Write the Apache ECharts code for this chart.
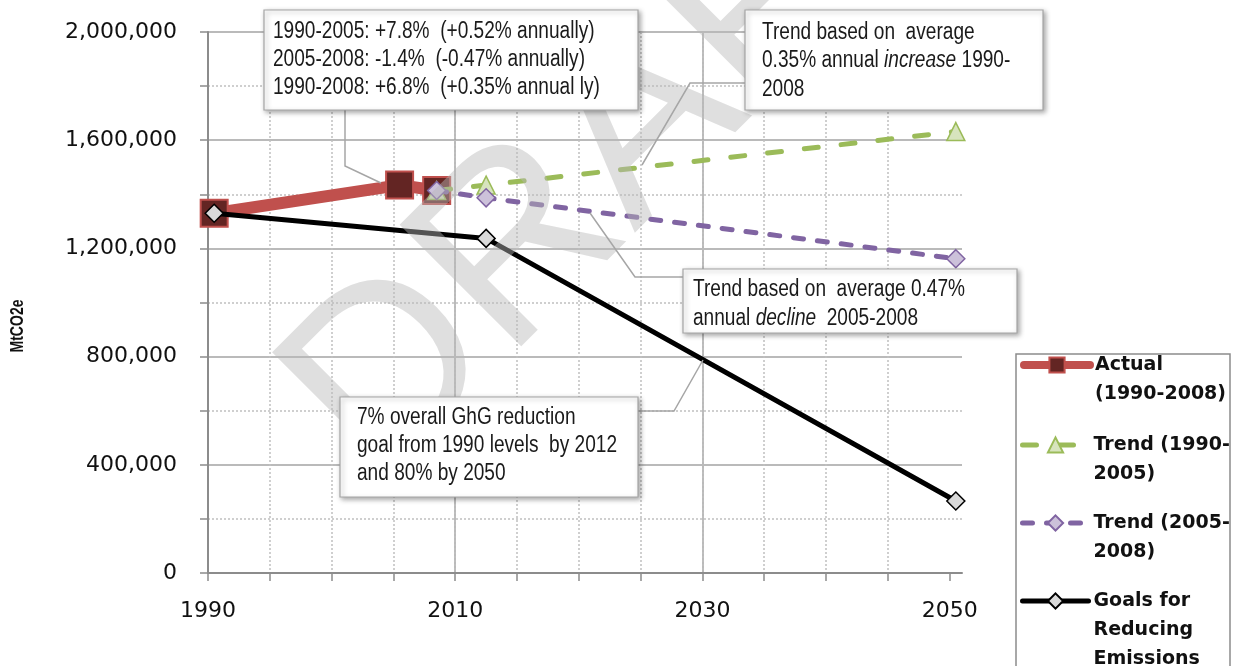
<!DOCTYPE html>
<html>
<head>
<meta charset="utf-8">
<script src="https://cdn.jsdelivr.net/npm/echarts@6/dist/echarts.min.js"></script>
<style>
html,body{margin:0;padding:0;background:#fff;}
#chart{width:1237px;height:666px;}
</style>
</head>
<body>
<div id="chart"></div>
<script>
// ---------------- data ----------------
const seriesNames = ['Actual (1990-2008)', 'Trend (1990-2005)', 'Trend (2005-2008)', 'Goals for Reducing Emissions'];
const legendLines = [['Actual', '(1990-2008)'], ['Trend (1990-', '2005)'], ['Trend (2005-', '2008)'], ['Goals for', 'Reducing', 'Emissions']];

const actualYears = [1990, 2005, 2008];
const actualValues = [1330000, 1434000, 1414000];

const trendUpYears = [2008, 2012, 2050];
const trendUpValues = [1414000, 1434000, 1632000];

const trendDownYears = [2008, 2012, 2050];
const trendDownValues = [1414000, 1387000, 1162000];

const goalYears = [1990, 2012, 2050];
const goalValues = [1330000, 1237000, 266000];

const xMajorYears = [1990, 2010, 2030, 2050];
const xMinorYears = [1990, 1995, 2000, 2005, 2010, 2015, 2020, 2025, 2030, 2035, 2040, 2045, 2050];
const yMin = 0, yMax = 2000000, yStep = 400000;
const yAxisTitle = 'MtCO2e';

const noteSpread = '1990-2005: +7.8%  (+0.52% annually)\n2005-2008: -1.4%  (-0.47% annually)\n1990-2008: +6.8%  (+0.35% annual ly)';
const noteIncrease = 'Trend based on  average\n0.35% annual {i|increase} 1990-\n2008';
const noteDecline = 'Trend based on  average 0.47%\nannual {i|decline}  2005-2008';
const noteGoal = '7% overall GhG reduction\ngoal from 1990 levels  by 2012\nand 80% by 2050';
const watermark = 'DRAFT';

// ---------------- chart ----------------
// Excel date axis: each year occupies one slot, points sit at the slot centre
const SLOT = 0.5;
const toPts = (xs, vs) => xs.map((x, i) => [x + SLOT, vs[i]]);

const chart = echarts.init(document.getElementById('chart'), null, {renderer: 'canvas'});

const sans = "'Liberation Sans', Arial, sans-serif";
const axisFont = "'DejaVu Sans', sans-serif";

const gridCol = '#a3a3a3';
const dotCol = '#c0c0c0';

// legend text is centred on the icon: pad with leading blank lines so the
// first real line sits level with the icon
function legendFor(idx, firstLineY, lineWidth) {
  const h = 29;
  const L = legendLines[idx].length;
  const blanks = L - 1;
  const text = '\n'.repeat(blanks) + legendLines[idx].join('\n');
  const N = blanks + L;
  return {
    show: true,
    data: [seriesNames[idx]],
    left: 1020, top: firstLineY - N * h / 2,
    orient: 'vertical',
    padding: 0,
    itemWidth: 66, itemHeight: 19,
    selectedMode: false,
    formatter: () => text,
    lineStyle: {width: lineWidth, cap: 'round'},
    textStyle: {fontFamily: axisFont, fontWeight: 'bold', fontSize: 19, color: '#111', lineHeight: h}
  };
}

const option = {
  animation: false,
  backgroundColor: '#fff',
  grid: {left: 208, right: 275, top: 32, bottom: 93, outerBoundsMode: 'none'},
  xAxis: [{
    type: 'value', min: 1990, max: 2051, interval: 20,
    axisLine: {show: true, onZero: false, lineStyle: {color: '#8c8c8c', width: 2}},
    axisTick: {show: true, length: 8, customValues: xMajorYears, lineStyle: {color: '#8c8c8c', width: 1.5}},
    axisLabel: {show: true, customValues: xMajorYears, margin: 27, fontFamily: axisFont, fontSize: 22, color: '#111', formatter: v => String(v)},
    splitLine: {show: true, showMaxLine: false, lineStyle: {color: gridCol, width: 1.5}}
  }, {
    type: 'value', min: 1990, max: 2051, interval: 5, position: 'bottom',
    axisLine: {show: false},
    axisTick: {show: true, length: 8, customValues: xMinorYears, lineStyle: {color: '#8c8c8c', width: 1.5}},
    axisLabel: {show: false},
    splitLine: {show: true, showMaxLine: false, lineStyle: {color: dotCol, width: 1.5, type: [2, 2]}}
  }],
  yAxis: {
    type: 'value', min: yMin, max: yMax, interval: yStep,
    axisLine: {show: true, lineStyle: {color: '#8c8c8c', width: 2}},
    axisTick: {show: true, length: 8, lineStyle: {color: '#8c8c8c', width: 1.5}},
    minorTick: {show: true, splitNumber: 2, length: 8, lineStyle: {color: '#8c8c8c', width: 1.5}},
    axisLabel: {margin: 31, fontFamily: axisFont, fontSize: 22, color: '#111', formatter: v => v.toLocaleString('en-US')},
    splitLine: {show: true, lineStyle: {color: gridCol, width: 1.5}},
    minorSplitLine: {show: true, lineStyle: {color: dotCol, width: 1.5, type: [2, 2]}}
  },
  legend: [
    legendFor(0, 365, 8),
    legendFor(1, 445, 5),
    legendFor(2, 523, 5),
    legendFor(3, 601, 5)
  ],
  series: [{
    name: seriesNames[0], type: 'line', data: toPts(actualYears, actualValues),
    symbol: 'rect', symbolSize: 27,
    lineStyle: {color: '#c0504d', width: 12},
    itemStyle: {color: '#632523', borderColor: '#c0504d', borderWidth: 2},
    emphasis: {disabled: true}, z: 2
  }, {
    name: seriesNames[1], type: 'line', data: toPts(trendUpYears, trendUpValues),
    symbol: 'triangle', symbolSize: 18,
    lineStyle: {color: '#9bbb59', width: 5, type: [14, 23], cap: 'round'},
    itemStyle: {color: '#d7e4bd', borderColor: '#9bbb59', borderWidth: 1.5},
    emphasis: {disabled: true}, z: 3
  }, {
    name: seriesNames[2], type: 'line', data: toPts(trendDownYears, trendDownValues),
    symbol: 'diamond', symbolSize: 18,
    lineStyle: {color: '#8064a2', width: 5, type: [10, 14], cap: 'round'},
    itemStyle: {color: '#ccc1da', borderColor: '#8064a2', borderWidth: 1.5},
    emphasis: {disabled: true}, z: 4
  }, {
    name: seriesNames[3], type: 'line', data: toPts(goalYears, goalValues),
    symbol: 'diamond', symbolSize: 18,
    lineStyle: {color: '#000', width: 5},
    itemStyle: {color: '#d9d9d9', borderColor: '#000', borderWidth: 1.5},
    emphasis: {disabled: true}, z: 5
  }]
};

chart.setOption(option);

// ---------------- annotations ----------------
const boxStyle = {fill: '#fff', stroke: '#a6a6a6', lineWidth: 1.2,
  shadowBlur: 5, shadowOffsetX: 2, shadowOffsetY: 2, shadowColor: 'rgba(0,0,0,0.35)'};
const leader = {stroke: '#a6a6a6', lineWidth: 1.5, fill: null};
const noteText = (x, y, text, lh) => ({
  type: 'text', x: x, y: y, z: 62, scaleX: 0.83,
  style: {text: text, x: 0, y: 0, fontFamily: sans, fontSize: 23, fill: '#1a1a1a',
    lineHeight: lh, verticalAlign: 'top', align: 'left',
    rich: {i: {fontStyle: 'italic', fontFamily: sans, fontSize: 23, lineHeight: lh, fill: '#1a1a1a'}}}
});

const graphics = [
  {type: 'text', x: 625, y: 145, rotation: Math.PI / 4, z: 50, silent: true,
   style: {text: watermark, x: 0, y: 0, align: 'center', verticalAlign: 'middle',
     fontFamily: sans, fontSize: 250, fill: 'rgba(185,185,185,0.45)'}},
  // y axis title
  {type: 'text', x: 18, y: 326, rotation: Math.PI / 2, scaleX: 0.78, z: 10,
   style: {text: yAxisTitle, x: 0, y: 0, align: 'center', verticalAlign: 'middle',
     fontFamily: sans, fontWeight: 'bold', fontSize: 18, fill: '#111'}},
  // leader lines
  {type: 'polyline', z: 55, shape: {points: [[345, 110], [345, 166], [381, 183]]}, style: leader},
  {type: 'polyline', z: 55, shape: {points: [[745, 83], [690, 83], [642, 165]]}, style: leader},
  {type: 'polyline', z: 55, shape: {points: [[683, 277], [635, 277], [590, 213]]}, style: leader},
  {type: 'polyline', z: 55, shape: {points: [[638, 411], [674, 411], [703, 360]]}, style: leader},
  // boxes
  {type: 'rect', z: 60, shape: {x: 264, y: 10, width: 374, height: 100}, style: boxStyle},
  noteText(273, 18, noteSpread, 28),
  {type: 'rect', z: 60, shape: {x: 745, y: 10, width: 298, height: 100}, style: boxStyle},
  noteText(762, 18, noteIncrease, 28.5),
  {type: 'rect', z: 60, shape: {x: 683, y: 269, width: 334, height: 64}, style: boxStyle},
  noteText(693, 275.5, noteDecline, 29),
  {type: 'rect', z: 60, shape: {x: 340, y: 397, width: 298, height: 100}, style: boxStyle},
  noteText(357, 404, noteGoal, 28),
  // legend frame
  {type: 'rect', z: 1, shape: {x: 1016, y: 354, width: 214, height: 330},
   style: {fill: null, stroke: '#8c8c8c', lineWidth: 1.5}}
];
chart.setOption({graphic: graphics});
</script>
</body>
</html>
